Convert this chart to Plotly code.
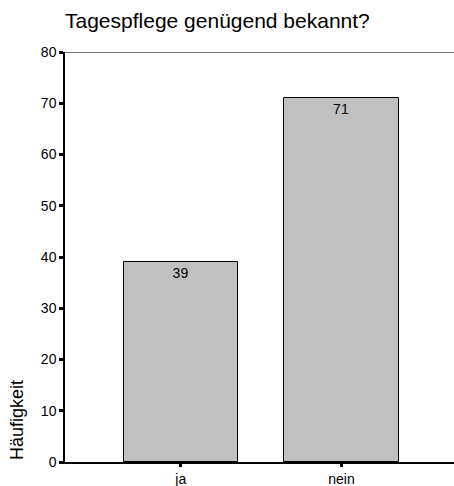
import plotly.graph_objects as go

categories = ["ja", "nein"]
counts = [39, 71]
y_ticks = [0, 10, 20, 30, 40, 50, 60, 70, 80]

W, H = 454, 486
ML, MR, MT, MB = 65, 0, 52, 24

fig = go.Figure()
fig.add_trace(go.Bar(
    x=categories, y=counts,
    width=0.71,
    marker=dict(color="#c0c0c0", line=dict(color="black", width=1)),
    text=[str(v) for v in counts],
    textposition="inside", insidetextanchor="end",
    textfont=dict(family="Liberation Sans, Arial", size=14, color="black"),
    hoverinfo="skip",
))

fig.update_layout(
    width=W, height=H,
    margin=dict(l=ML, r=MR, t=MT, b=MB, autoexpand=False),
    paper_bgcolor="white", plot_bgcolor="white",
    showlegend=False,
    font=dict(family="Liberation Sans, Arial", color="black"),
    title=dict(text="Tagespflege genügend bekannt?", x=ML / W, xanchor="left",
               y=1 - 21 / H, yanchor="middle", yref="container",
               font=dict(size=21, color="black")),
    xaxis=dict(range=[-0.72, 1.70], showline=True, linecolor="black", linewidth=1.5,
               ticks="outside", ticklen=3, tickwidth=3, tickcolor="black",
               showgrid=False, zeroline=False, tickfont=dict(size=14)),
    yaxis=dict(range=[0, 80], tickvals=y_ticks, showline=True, linecolor="black",
               linewidth=1.5, ticks="outside", ticklen=4, tickwidth=3, tickcolor="black",
               showgrid=False, zeroline=False, tickfont=dict(size=14)),
    bargap=0,
)
fig.add_shape(type="line", xref="paper", yref="y", x0=0, x1=1, y0=80, y1=80,
              line=dict(color="#444444", width=1.5))
fig.add_annotation(text="Häufigkeit", xref="paper", yref="paper",
                   x=-(ML - 17) / (W - ML - MR), y=0, xanchor="center", yanchor="bottom",
                   textangle=-90, showarrow=False, font=dict(size=18, color="black"))

fig.write_html("out.html", config={"displayModeBar": False})

with open("out.html", encoding="utf-8") as f:
    html = f.read()
html = html.replace("<head>", "<head><style>html,body{margin:0;padding:0;}</style>", 1)
with open("out.html", "w", encoding="utf-8") as f:
    f.write(html)
